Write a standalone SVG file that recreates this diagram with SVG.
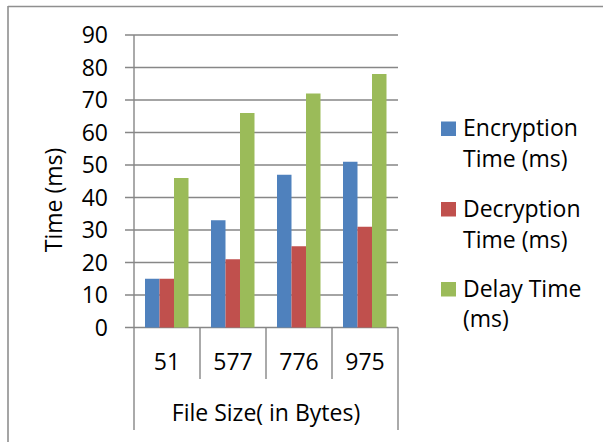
<svg xmlns="http://www.w3.org/2000/svg" width="603" height="442" viewBox="0 0 603 442">
<style>
text{font-family:"Open Sans","Liberation Sans",sans-serif;font-size:23px;fill:#000}
.g{stroke:#878787;stroke-width:1.4;fill:none}
.b{fill:#4F81BD}.r{fill:#C0504D}.v{fill:#9BBB59}
.ya{text-anchor:end}.mid{text-anchor:middle}
</style>
<rect x="0" y="0" width="603" height="442" fill="#fff"/>
<path d="M8,6.5H603M8,6V442" stroke="#8f8f8f" stroke-width="1.6" fill="none"/>
<g id="grid" class="g">
<path d="M125,35H398M125,67.5H398M125,100H398M125,132.5H398M125,165H398M125,197.5H398M125,230H398M125,262.5H398M125,295H398M125,327.5H398"/>
<path d="M134,35V430M398,327.5V430M200,327.5V379M266,327.5V379M332,327.5V379"/>
</g>
<g id="ylabels" class="ya">
<text x="108" y="43">90</text>
<text x="108" y="75.5">80</text>
<text x="108" y="108">70</text>
<text x="108" y="140.5">60</text>
<text x="108" y="173">50</text>
<text x="108" y="205.5">40</text>
<text x="108" y="238">30</text>
<text x="108" y="270.5">20</text>
<text x="108" y="303">10</text>
<text x="108" y="335.5">0</text>
</g>
<g id="bars">
<rect class="b" x="145" y="278.75" width="14.5" height="48.75"/>
<rect class="r" x="159.5" y="278.75" width="14.5" height="48.75"/>
<rect class="v" x="174" y="178" width="14.5" height="149.5"/>
<rect class="b" x="211" y="220.25" width="14.5" height="107.25"/>
<rect class="r" x="225.5" y="259.25" width="14.5" height="68.25"/>
<rect class="v" x="240" y="113" width="14.5" height="214.5"/>
<rect class="b" x="277" y="174.75" width="14.5" height="152.75"/>
<rect class="r" x="291.5" y="246.25" width="14.5" height="81.25"/>
<rect class="v" x="306" y="93.5" width="14.5" height="234"/>
<rect class="b" x="343" y="161.75" width="14.5" height="165.75"/>
<rect class="r" x="357.5" y="226.75" width="14.5" height="100.75"/>
<rect class="v" x="372" y="74" width="14.5" height="253.5"/>
</g>
<g id="xlabels" class="mid">
<text x="167" y="370">51</text>
<text x="233" y="370">577</text>
<text x="299" y="370">776</text>
<text x="365" y="370">975</text>
</g>
<g id="xtitle"><text class="mid" x="266" y="421">File Size( in Bytes)</text></g>
<g id="ytitle"><text class="mid" transform="translate(62,200) rotate(-90)">Time (ms)</text></g>
<g id="legend-enc">
<rect class="b" x="441" y="121.5" width="15" height="14.5"/>
<text x="463" y="136">Encryption</text>
<text x="463" y="166.5">Time (ms)</text>
</g>
<g id="legend-dec">
<rect class="r" x="441" y="202" width="15" height="14.5"/>
<text x="463" y="216.5">Decryption</text>
<text x="463" y="247.5">Time (ms)</text>
</g>
<g id="legend-delay">
<rect class="v" x="441" y="282" width="15" height="14.5"/>
<text x="463" y="296.5">Delay Time</text>
<text x="463" y="327">(ms)</text>
</g>
</svg>
